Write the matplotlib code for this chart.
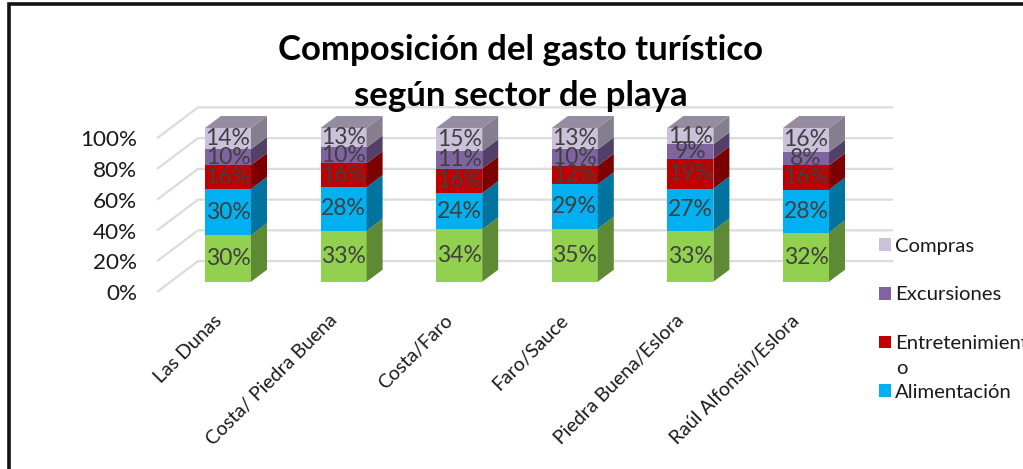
import matplotlib
matplotlib.use("Agg")
import matplotlib.pyplot as plt
from matplotlib.patches import Polygon, Rectangle
from matplotlib.lines import Line2D
from matplotlib.transforms import ScaledTranslation

plt.rcParams['font.family'] = ['Lato', 'DejaVu Sans']

# ---- data ----
sectors = ["Las Dunas", "Costa/ Piedra Buena", "Costa/Faro", "Faro/Sauce",
           "Piedra Buena/Eslora", "Raúl Alfonsín/Eslora"]
otros = [30.3, 33.1, 34.0, 34.6, 33.3, 32.0]
alimentacion = [30.0, 28.4, 23.6, 28.8, 27.3, 27.9]
entretenimiento = [15.6, 15.6, 16.0, 12.1, 19.5, 15.8]
excursiones = [10.4, 10.2, 11.3, 10.6, 9.3, 8.7]
compras = [13.7, 12.7, 15.1, 13.9, 10.6, 15.6]
label_otros = ["30%", "33%", "34%", "35%", "33%", "32%"]
label_alimentacion = ["30%", "28%", "24%", "29%", "27%", "28%"]
label_entretenimiento = ["16%", "16%", "16%", "12%", "19%", "16%"]
label_excursiones = ["10%", "10%", "11%", "10%", "9%", "8%"]
label_compras = ["14%", "13%", "15%", "13%", "11%", "16%"]
y_ticks = [0, 20, 40, 60, 80, 100]
y_tick_labels = ["0%", "20%", "40%", "60%", "80%", "100%"]
title = "Composición del gasto turístico\nsegún sector de playa"

series = [
    ("", otros, label_otros, "#92D050", "#5F8A35"),
    ("Alimentación", alimentacion, label_alimentacion, "#00B0F0", "#00739F"),
    ("Entretenimient", entretenimiento, label_entretenimiento, "#C00000", "#7D0000"),
    ("Excursiones", excursiones, label_excursiones, "#8064A2", "#533F68"),
    ("Compras", compras, label_compras, "#CCC1DA", "#857E8E"),
]

W, H = 1023, 469
fig = plt.figure(figsize=(W / 100, H / 100), dpi=100)
# pixel frame of the plot area
PX_L, PX_R, PX_T, PX_B = 158, 892, 107, 292
ax = fig.add_axes([PX_L / W, 1 - PX_B / H, (PX_R - PX_L) / W, (PX_B - PX_T) / H])
ux, uy = 1 / 115.6, 100 / 154
ax.set_xlim((PX_L - 228) * ux, (PX_R - 228) * ux)
ax.set_ylim(-(PX_B - 282) * uy, (282 - PX_T) * uy)
for s in ax.spines.values():
    s.set_visible(False)

# gridlines on the back wall and side wall
grid_c = "#DCDCDC"
x0, x1 = ax.get_xlim()
back_x = x0 + 40 * ux
for v in y_ticks:
    ax.plot([x0, back_x, x1], [v - 6.2, v + 13.4, v + 13.4], color=grid_c, lw=1.6,
            zorder=1, clip_on=False, solid_joinstyle="miter")

# bars (front face, side face, top)
half = 23 * ux
dx, dy = 16 * ux, 12 * uy
for i in range(len(sectors)):
    base = 0.0
    for name, vals, labs, col, side in series:
        top = base + vals[i]
        ax.bar(i, vals[i], bottom=base, width=2 * half, color=col, linewidth=0, zorder=3)
        ax.add_patch(Polygon([(i + half, base), (i + half + dx, base + dy),
                              (i + half + dx, top + dy), (i + half, top)],
                             closed=True, fc=side, ec="none", zorder=3))
        ax.text(i, (base + top) / 2, labs[i], ha="center", va="center",
                fontsize=16.5, color="#404040", zorder=5)
        base = top
    ax.add_patch(Polygon([(i - half, base), (i - half + dx, base + dy),
                          (i + half + dx, base + dy), (i + half, base)],
                         closed=True, fc="#978B9F", ec="none", zorder=3))

# axes labels
ax.set_yticks([v - 6.7 for v in y_ticks])
ax.set_yticklabels(y_tick_labels, fontsize=16.2, color="#1a1a1a")
ax.tick_params(axis="y", length=0, pad=15)
ax.set_xticks(range(len(sectors)))
ax.set_xticklabels(sectors, rotation=45, ha="right", va="center",
                   rotation_mode="anchor", fontsize=14, color="#1a1a1a")
ax.tick_params(axis="x", length=0, pad=18.5)
shift = ScaledTranslation(-9 / 100, 0, fig.dpi_scale_trans)
for lab in ax.get_xticklabels():
    lab.set_transform(lab.get_transform() + shift)

# title
fig.text(521 / W, 1 - 73 / H, title, ha="center", va="center", fontsize=25,
         fontweight="bold", color="black", linespacing=1.55)

# legend: the reference shows four entries, in reverse stacking order
handles = [Rectangle((0, 0), 1, 1, fc=s[3], ec="none") for s in series[:0:-1]]
labels = [s[0] for s in series[:0:-1]]
leg = fig.legend(handles, labels, loc="upper left", bbox_to_anchor=(879 / W, 1 - 237.5 / H),
                 bbox_transform=fig.transFigure, frameon=False, fontsize=14.6,
                 handlelength=0.59, handleheight=0.59, handletextpad=0.2,
                 labelspacing=1.57, borderpad=0, borderaxespad=0)
for t in leg.get_texts():
    t.set_color("#1a1a1a")
fig.text(896 / W, 1 - 368 / H, "o", fontsize=14.6, color="#1a1a1a", ha="left", va="center")

# frame: only the top and left edges fall inside the picture
fig.add_artist(Line2D([8.5 / W, 8.5 / W, 1], [0, 1 - 4.5 / H, 1 - 4.5 / H],
                      transform=fig.transFigure, color="#111111", lw=2.6,
                      solid_joinstyle="miter"))

fig.savefig("out.png", dpi=100)
